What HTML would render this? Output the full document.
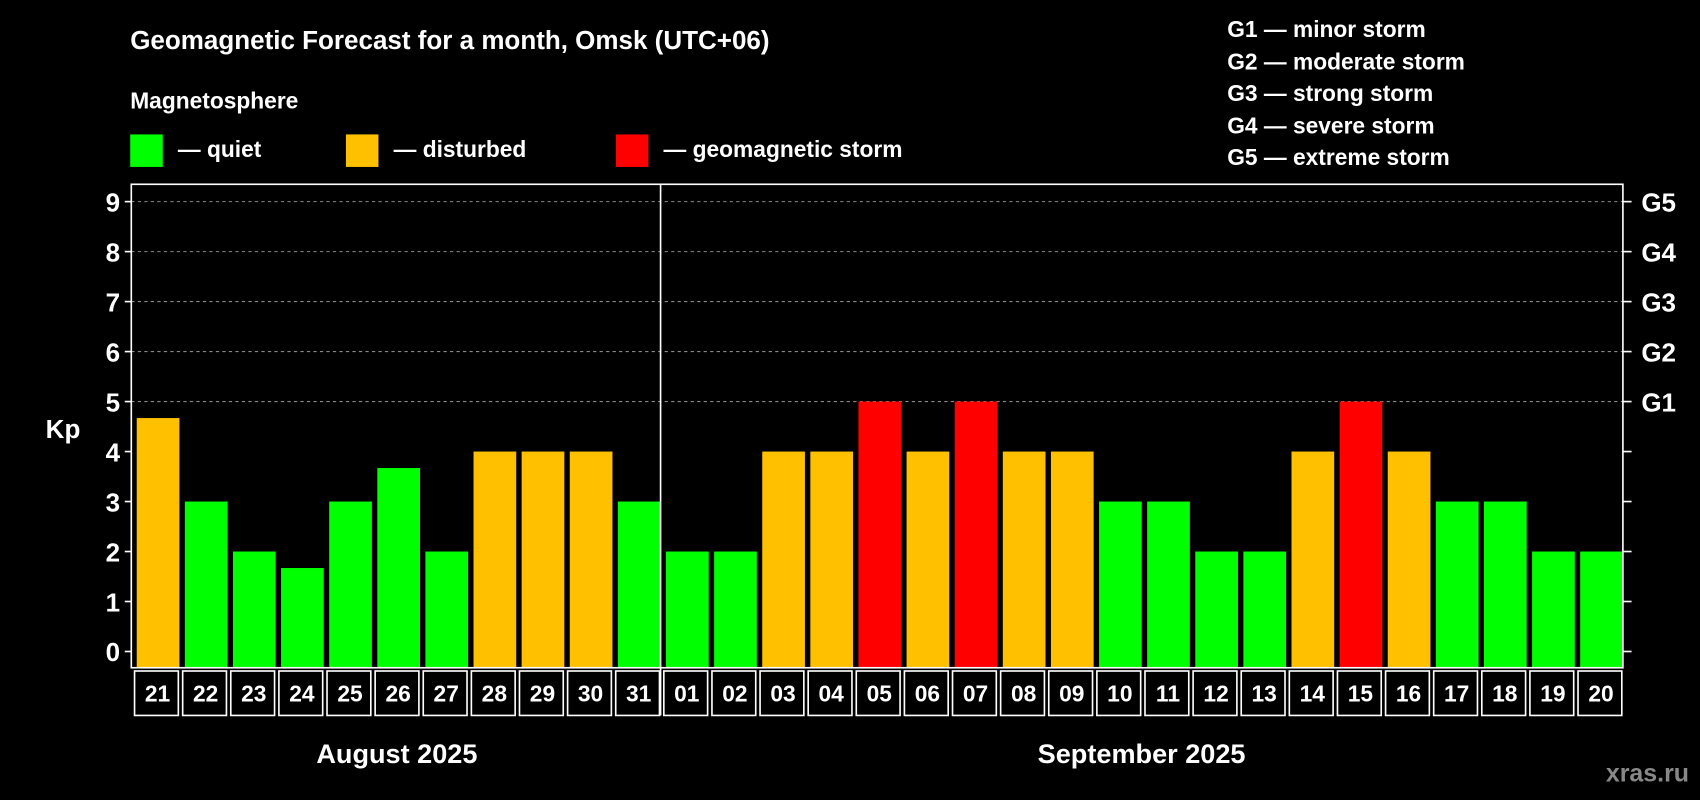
<!DOCTYPE html>
<html><head><meta charset="utf-8"><style>
html,body{margin:0;padding:0;background:#000;}
svg{display:block;font-family:"Liberation Sans",sans-serif;font-weight:bold;}
</style></head><body>
<svg id="chart" width="1700" height="800" viewBox="0 0 1568 738" xmlns="http://www.w3.org/2000/svg">
<rect width="1568" height="738" fill="#000"/>
<text x="120" y="45" fill="#fff" font-size="24">Geomagnetic Forecast for a month, Omsk (UTC+06)</text>
<text x="120" y="100" fill="#fff" font-size="21">Magnetosphere</text>
<g><rect x="120" y="124" width="30" height="30" fill="#00ff00"/><text x="164" y="145" fill="#fff" font-size="21">— quiet</text></g>
<g><rect x="319" y="124" width="30" height="30" fill="#ffc000"/><text x="363" y="145" fill="#fff" font-size="21">— disturbed</text></g>
<g><rect x="568" y="124" width="30" height="30" fill="#ff0000"/><text x="612" y="145" fill="#fff" font-size="21">— geomagnetic storm</text></g>
<g fill="#fff" font-size="21">
<text x="1132" y="34">G1 — minor storm</text>
<text x="1132" y="64">G2 — moderate storm</text>
<text x="1132" y="93">G3 — strong storm</text>
<text x="1132" y="123">G4 — severe storm</text>
<text x="1132" y="152">G5 — extreme storm</text>
</g>
<text x="58" y="404" fill="#fff" font-size="24" text-anchor="middle">Kp</text>
<g id="grid"></g><g id="bars"></g><g id="axes"></g>
<text x="366" y="704" fill="#fff" font-size="25" text-anchor="middle">August 2025</text>
<text x="1053" y="704" fill="#fff" font-size="25" text-anchor="middle">September 2025</text>
<text x="1558" y="721" fill="#888" font-size="23" text-anchor="end">xras.ru</text>
</svg>
<script>
const days=["21","22","23","24","25","26","27","28","29","30","31","01","02","03","04","05","06","07","08","09","10","11","12","13","14","15","16","17","18","19","20"];
const kpValues=[4.67,3,2,1.67,3,3.67,2,4,4,4,3,2,2,4,4,5,4,5,4,4,3,3,2,2,4,5,4,3,3,2,2];
const yTicks=[0,1,2,3,4,5,6,7,8,9];
const gLabels=["","","","","","G1","G2","G3","G4","G5"];
const NS="http://www.w3.org/2000/svg";
const L=121,R=1497,T=170,B=616,Y0=601,U=(601-186)/9;
const y=v=>Y0-v*U;
const cw=(R-L)/days.length;
const x=i=>L+i*cw;
function mk(tag,attrs,parent){const e=document.createElementNS(NS,tag);for(const k in attrs)e.setAttribute(k,attrs[k]);parent.appendChild(e);return e;}
const grid=document.getElementById('grid'),bars=document.getElementById('bars'),axes=document.getElementById('axes');
yTicks.forEach((t,i)=>{
  if(t>=5){const g=mk('line',{x1:L,x2:R,y1:y(t),y2:y(t),stroke:'#888','stroke-dasharray':'3,3','stroke-width':1},grid);
  
  }
  const tl=mk('line',{x1:L-6,x2:L,y1:y(t),y2:y(t),stroke:'#fff','stroke-width':1.5},axes);
  
  
  const tr=mk('line',{x1:R,x2:R+8,y1:y(t),y2:y(t),stroke:'#fff','stroke-width':1.5},axes);
  
  
  const lab=mk('text',{x:104,y:y(t)+9,fill:'#fff','font-size':24,'text-anchor':'middle'},axes);lab.textContent=t;
  
  
  if(gLabels[i]){const gl=mk('text',{x:1514,y:y(t)+9,fill:'#fff','font-size':24},axes);gl.textContent=gLabels[i];
  
  }
});
kpValues.forEach((v,i)=>{
  const col=v>=5?'#ff0000':(v>=4?'#ffc000':'#00ff00');
  const b=mk('rect',{x:x(i)+5,y:y(v),width:cw-5,height:B-y(v),fill:col},bars);
  
  
  const c=mk('rect',{x:x(i)+3,y:619,width:cw-4,height:41,fill:'none',stroke:'#fff','stroke-width':1.5},axes);
  
  
  const t=mk('text',{x:x(i)+cw/2+2,y:647,fill:'#fff','font-size':21,'text-anchor':'middle'},axes);t.textContent=days[i];
  
  
});
const f=mk('rect',{x:L,y:T,width:R-L,height:B-T,fill:'none',stroke:'#fff','stroke-width':1.5},axes);


const d=mk('line',{x1:x(11),x2:x(11),y1:T,y2:660,stroke:'#fff','stroke-width':1.5},axes);


</script>
</body></html>
